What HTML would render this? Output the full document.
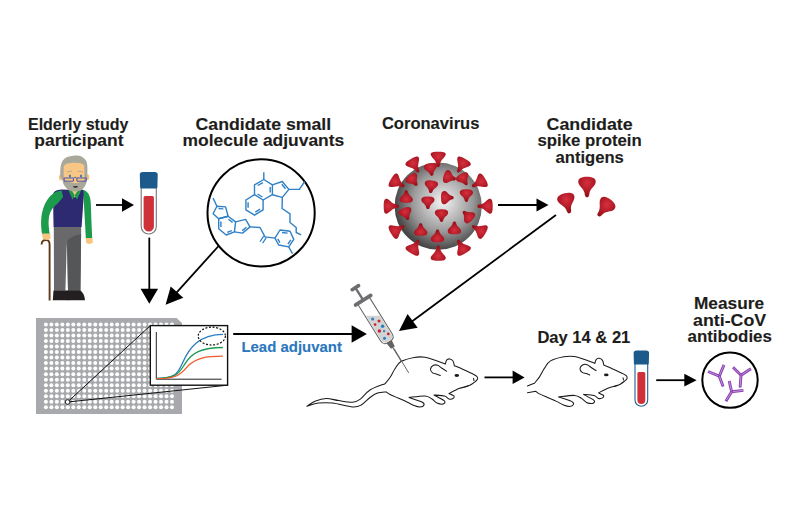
<!DOCTYPE html><html><head><meta charset="utf-8"><style>
html,body{margin:0;padding:0;background:#fff;width:800px;height:530px;overflow:hidden}
svg{display:block;font-family:"Liberation Sans",sans-serif}
</style></head><body>
<svg width="800" height="530" viewBox="0 0 800 530">
<defs>
<radialGradient id="sph" cx="0.55" cy="0.45" r="0.55">
<stop offset="0" stop-color="#f2f2f2"/><stop offset="0.12" stop-color="#e2e2e2"/><stop offset="0.62" stop-color="#9a9a9a"/><stop offset="1" stop-color="#464646"/>
</radialGradient>
<radialGradient id="spk" cx="0.5" cy="0.3" r="0.65">
<stop offset="0" stop-color="#d82f3e"/><stop offset="1" stop-color="#960f18"/>
</radialGradient>
<path id="spike" d="M-7.5,-6.3 C-7.9,-8.9 -4,-9.2 0,-9.2 C4,-9.2 7.9,-8.9 7.5,-6.3 C7,-3.3 2.6,-1.3 1.9,3 C1.6,5.5 1.1,6.2 0,6.2 C-1.1,6.2 -1.6,5.5 -1.9,3 C-2.6,-1.3 -7,-3.3 -7.5,-6.3 Z" fill="url(#spk)"/>
<path id="aspike" d="M-8.6,-5 C-9.6,-9.6 -4.6,-11 0,-11 C4.6,-11 9.6,-9.6 8.6,-5 C7.9,-1.5 3.6,0.5 2.5,5 C2.1,8.5 1.6,9.6 0,9.6 C-1.6,9.6 -2.1,8.5 -2.5,5 C-3.6,0.5 -7.9,-1.5 -8.6,-5 Z" fill="url(#spk)"/>
<path id="ispike" d="M-6.6,-3 C-7.2,-6.3 -3.6,-6.9 0,-6.9 C3.6,-6.9 7.2,-6.3 6.6,-3 C6.1,-0.6 2.7,0.7 1.9,3.6 C1.6,5.2 1,5.8 0,5.8 C-1,5.8 -1.6,5.2 -1.9,3.6 C-2.7,0.7 -6.1,-0.6 -6.6,-3 Z" fill="url(#spk)"/>
</defs>
<rect width="800" height="530" fill="#fff"/>

<text x="28.0" y="129.5" font-size="16" fill="#1d1d1b" font-weight="bold" textLength="100.3" lengthAdjust="spacingAndGlyphs" stroke="#1d1d1b" stroke-width="0.12">Elderly study</text>
<text x="34.3" y="146.3" font-size="16" fill="#1d1d1b" font-weight="bold" textLength="89.2" lengthAdjust="spacingAndGlyphs" stroke="#1d1d1b" stroke-width="0.12">participant</text>
<text x="195.6" y="129.5" font-size="16" fill="#1d1d1b" font-weight="bold" textLength="135.6" lengthAdjust="spacingAndGlyphs" stroke="#1d1d1b" stroke-width="0.12">Candidate small</text>
<text x="182.6" y="146.3" font-size="16" fill="#1d1d1b" font-weight="bold" textLength="161.6" lengthAdjust="spacingAndGlyphs" stroke="#1d1d1b" stroke-width="0.12">molecule adjuvants</text>
<text x="381.9" y="129.3" font-size="16" fill="#1d1d1b" font-weight="bold" textLength="97.5" lengthAdjust="spacingAndGlyphs" stroke="#1d1d1b" stroke-width="0.12">Coronavirus</text>
<text x="546.5" y="129.5" font-size="16" fill="#1d1d1b" font-weight="bold" textLength="86.2" lengthAdjust="spacingAndGlyphs" stroke="#1d1d1b" stroke-width="0.12">Candidate</text>
<text x="537.5" y="146.3" font-size="16" fill="#1d1d1b" font-weight="bold" textLength="104.2" lengthAdjust="spacingAndGlyphs" stroke="#1d1d1b" stroke-width="0.12">spike protein</text>
<text x="555.5" y="163.1" font-size="16" fill="#1d1d1b" font-weight="bold" textLength="68.3" lengthAdjust="spacingAndGlyphs" stroke="#1d1d1b" stroke-width="0.12">antigens</text>
<text x="241.4" y="352.1" font-size="15" fill="#2a77bd" font-weight="bold" textLength="100.6" lengthAdjust="spacingAndGlyphs" stroke="#2a77bd" stroke-width="0.12">Lead adjuvant</text>
<text x="537.4" y="343.0" font-size="16" fill="#1d1d1b" font-weight="bold" textLength="92.9" lengthAdjust="spacingAndGlyphs" stroke="#1d1d1b" stroke-width="0.12">Day 14 &amp; 21</text>
<text x="694.0" y="308.8" font-size="16" fill="#1d1d1b" font-weight="bold" textLength="70.0" lengthAdjust="spacingAndGlyphs" stroke="#1d1d1b" stroke-width="0.12">Measure</text>
<text x="693.1" y="325.6" font-size="16" fill="#1d1d1b" font-weight="bold" textLength="73.1" lengthAdjust="spacingAndGlyphs" stroke="#1d1d1b" stroke-width="0.12">anti-CoV</text>
<text x="687.5" y="342.4" font-size="16" fill="#1d1d1b" font-weight="bold" textLength="84.4" lengthAdjust="spacingAndGlyphs" stroke="#1d1d1b" stroke-width="0.12">antibodies</text>
<g id="person">
<path d="M41.6,244.5 C41.6,241 44,239.8 46.5,240 C48.7,240.3 49.6,242 49.6,244.5 L49.6,300.6" stroke="#5e3a17" stroke-width="1.9" fill="none"/>
<path d="M53.8,226 L81.2,226 L80.4,290.8 L68,290.8 L66.8,242.5 L65.4,290.8 L54,290.8 Z" fill="#69696b"/>
<path d="M67.4,241 C70,237 76,235 81.1,234 L80.4,290.8 L68,290.8 Z" fill="#555658"/>

<path d="M53.5,290.5 L67.2,290.5 L68.3,300.2 L52.8,300.2 Z" fill="#231f20"/>
<path d="M66.6,290.5 L80.5,290.5 C83,292.5 84.6,295.5 85,300.2 L67.4,300.2 Z" fill="#231f20"/>

<path d="M82.5,189.8 C87.5,190.5 90.3,195 90.8,203 C91.2,214 91.6,226 92.2,238.5 L85.8,238.5 C85.4,228 84.6,216 84,205 Z" fill="#1c9b4c"/>
<path d="M53.4,193 C55,190.5 58.5,189.6 62,189.6 L69,189.8 L74.6,197 L80.5,189.6 L83,189.8 C83.5,191 83.8,192.5 83.7,194 C83.2,205 82.4,216 81.6,227 L53.6,227 C53.2,215 53.2,204 53.4,193 Z" fill="#2d2a72"/>
<path d="M61.5,190.4 C57,190.5 51.5,193.5 47.2,200 C43,206.5 41.3,214 41.1,222 C41,227 41.5,231 42.2,234.5 L49.8,234.5 C49,229.5 48.5,225 48.6,221 C48.8,214.5 51,209.5 54.5,206.3 C57.5,203.5 60.5,200.5 63.2,197 Z" fill="#1c9b4c"/>
<path d="M42.2,233.4 L50.2,233.4 L50.6,238.6 C49,240.3 44.5,240.3 42.6,238.6 Z" fill="#f7c57f"/>
<path d="M85.8,238 L92.5,238 L92.8,242.6 C91,244.5 87.2,244.5 86.1,242.6 Z" fill="#f7c57f"/>
<path d="M70.2,188 L79.6,188 L79.4,194 L74.8,197.5 L70.4,194 Z" fill="#f7c57f"/>
<path d="M68.2,189.4 L71.2,189.4 L74.8,195.3 L72.6,199.8 Z" fill="#1c9b4c"/>
<path d="M81.4,189.4 L78.4,189.4 L74.8,195.3 L77,199.8 Z" fill="#1c9b4c"/>
<ellipse cx="60.9" cy="177.5" rx="2" ry="2.9" fill="#f7c57f"/>
<ellipse cx="87.3" cy="177.2" rx="2" ry="2.9" fill="#f7c57f"/>
<path d="M60.3,177 C60,168 60.5,161.5 65,158.2 C68.5,155.8 72.5,156.2 75.5,155.6 C79.5,155 83.5,157 86,160.5 C87.8,163.5 87.6,170 87.3,177 C87,185 83.5,191.4 75.3,191.6 C67,191.4 62.8,185 62.5,180 Z" fill="#aaa79b"/>
<path d="M63.6,166.5 C65,163.6 69,162.8 74.5,162.8 C80,162.8 83,163.6 84.3,165.8 L84.5,178 C84.5,180.5 83.5,181.5 81,182 C79,182.3 77.5,183.2 75,183.2 C72.5,183.2 71,182.3 69,182 C66,181.5 64,180.5 63.8,178 Z" fill="#f8c685"/>
<path d="M67,171.8 L72,171.2 M77.8,171.2 L82.8,171.8" stroke="#b0a994" stroke-width="0.9"/>
<ellipse cx="69.9" cy="176.1" rx="0.95" ry="1.5" fill="#2a72bb"/>
<ellipse cx="81" cy="176.1" rx="0.95" ry="1.5" fill="#2a72bb"/>
<path d="M63.9,178 L73.5,178 L73.3,181.2 L64.4,181.2 Z M76.8,178 L86.4,178 L86,181.2 L77,181.2 Z M73.5,178.6 C74.5,176.8 75.8,176.8 76.8,178.6" fill="none" stroke="#4b56a8" stroke-width="1"/>
<path d="M73.4,186.5 C74.6,187.1 76.4,187.1 77.6,186.5" stroke="#231f20" stroke-width="1.3" fill="none"/>
</g>
<path d="M141.2,187.5 L141.2,226.45 A7.550000000000011,7.550000000000011 0 0 0 156.3,226.45 L156.3,187.5" fill="#fff" stroke="#777" stroke-width="1.1"/>
<path d="M143.6,197.5 Q143.6,196 145.1,196 L152.4,196 Q153.9,196 153.9,197.5 L153.9,226.45 A5.150000000000006,5.150000000000006 0 0 1 143.6,226.45 Z" fill="#cf3139"/>
<path d="M139.79999999999998,174.5 Q139.79999999999998,172 142.79999999999998,172 L154.70000000000002,172 Q157.70000000000002,172 157.70000000000002,174.5 L157.4,187.3 Q157.4,188.5 155.9,188.5 L141.6,188.5 Q140.1,188.5 140.1,187.3 Z" fill="#1b5a8b"/>
<path d="M635,363.6 L635,399.95 A6.350000000000023,6.350000000000023 0 0 0 647.7,399.95 L647.7,363.6" fill="#fff" stroke="#1f5f8f" stroke-width="1.1"/>
<path d="M637.4,373.5 Q637.4,372 638.9,372 L643.8000000000001,372 Q645.3000000000001,372 645.3000000000001,373.5 L645.3000000000001,399.95 A3.9500000000000455,3.9500000000000455 0 0 1 637.4,399.95 Z" fill="#cf3139"/>
<path d="M633.6,353.0 Q633.6,350.5 636.6,350.5 L646.1,350.5 Q649.1,350.5 649.1,353.0 L648.8000000000001,363.40000000000003 Q648.8000000000001,364.6 647.3000000000001,364.6 L635.4,364.6 Q633.9,364.6 633.9,363.40000000000003 Z" fill="#1b5a8b"/>
<line x1="96.0" y1="205.0" x2="123.0" y2="205.0" stroke="#000" stroke-width="1.8"/>
<polygon points="134.0,205.0 122.0,211.8 122.0,198.2" fill="#000"/>
<line x1="149.3" y1="237.6" x2="149.3" y2="289.8" stroke="#000" stroke-width="1.8"/>
<polygon points="149.3,303.8 140.6,288.8 158.1,288.8" fill="#000"/>
<line x1="218.6" y1="246.0" x2="176.3" y2="292.8" stroke="#000" stroke-width="1.8"/>
<polygon points="165.6,304.7 170.7,286.4 183.3,297.8" fill="#000"/>
<line x1="498.0" y1="205.0" x2="537.5" y2="205.0" stroke="#000" stroke-width="1.8"/>
<polygon points="548.5,205.0 536.5,211.5 536.5,198.5" fill="#000"/>
<line x1="556.0" y1="215.0" x2="411.9" y2="321.5" stroke="#000" stroke-width="1.8"/>
<polygon points="399.0,331.0 407.6,314.1 417.7,327.7" fill="#000"/>
<line x1="233.2" y1="334.0" x2="352.6" y2="334.0" stroke="#000" stroke-width="1.8"/>
<polygon points="366.9,334.0 351.6,342.8 351.6,325.2" fill="#000"/>
<line x1="484.5" y1="377.4" x2="513.6" y2="377.4" stroke="#000" stroke-width="1.8"/>
<polygon points="524.6,377.4 512.6,384.1 512.6,370.6" fill="#000"/>
<line x1="656.2" y1="380.2" x2="685.3" y2="380.2" stroke="#000" stroke-width="1.8"/>
<polygon points="696.6,380.2 684.3,386.6 684.3,373.8" fill="#000"/>
<circle cx="261.1" cy="212.9" r="53.6" fill="#fff" stroke="#000" stroke-width="2"/>
<path d="M263.8,172.3 L263.8,179.5" fill="none" stroke="#2f80c6" stroke-width="1.4" stroke-linejoin="round"/>
<path d="M263.8,179.5 L272.4,184.8 L272.4,194.7 L263.1,200.0 L254.5,194.7 L254.5,184.8 Z" fill="none" stroke="#2f80c6" stroke-width="1.4" stroke-linejoin="round"/>
<path d="M263.1,200.0 L263.1,209.9 L254.5,215.2 L245.9,209.9 L245.9,200.0 L254.5,194.7" fill="none" stroke="#2f80c6" stroke-width="1.4" stroke-linejoin="round"/>
<path d="M272.4,184.8 L282.3,181.5 L288.9,189.4 L282.3,197.4 L272.4,194.7" fill="none" stroke="#2f80c6" stroke-width="1.4" stroke-linejoin="round"/>
<path d="M288.9,189.4 L299.4,189.4 L304.7,181.5" fill="none" stroke="#2f80c6" stroke-width="1.4" stroke-linejoin="round"/>
<path d="M282.3,197.4 L282.1,208.5 L290.0,213.8 L290.0,222.5 L296.2,227.5 L296.2,232.5 L301.2,234.8" fill="none" stroke="#2f80c6" stroke-width="1.4" stroke-linejoin="round"/>
<path d="M262.9,182.6 L257.6,185.5" fill="none" stroke="#2f80c6" stroke-width="1.4" stroke-linejoin="round"/>
<path d="M270.2,187.0 L270.2,192.5" fill="none" stroke="#2f80c6" stroke-width="1.4" stroke-linejoin="round"/>
<path d="M262.4,197.0 L257.5,194.0" fill="none" stroke="#2f80c6" stroke-width="1.4" stroke-linejoin="round"/>
<path d="M260.1,209.2 L255.3,212.1" fill="none" stroke="#2f80c6" stroke-width="1.4" stroke-linejoin="round"/>
<path d="M248.1,207.7 L248.1,202.2" fill="none" stroke="#2f80c6" stroke-width="1.4" stroke-linejoin="round"/>
<path d="M281.8,184.3 L285.5,188.7" fill="none" stroke="#2f80c6" stroke-width="1.4" stroke-linejoin="round"/>
<path d="M213.1,198.1 L216.9,206.3" fill="none" stroke="#2f80c6" stroke-width="1.4" stroke-linejoin="round"/>
<path d="M216.9,206.3 L225.6,206.9 L228.1,216.2 L218.7,218.7 L213.1,213.8 Z" fill="none" stroke="#2f80c6" stroke-width="1.4" stroke-linejoin="round"/>
<path d="M218.7,218.7 L228.1,216.2 L235.6,221.9 L234.4,231.9 L226.2,235.0 L218.7,228.7 Z" fill="none" stroke="#2f80c6" stroke-width="1.4" stroke-linejoin="round"/>
<path d="M235.6,221.9 L245.6,219.4 L250.0,226.9 L242.5,233.1 L234.4,231.9" fill="none" stroke="#2f80c6" stroke-width="1.4" stroke-linejoin="round"/>
<path d="M218.5,208.6 L223.4,208.9" fill="none" stroke="#2f80c6" stroke-width="1.4" stroke-linejoin="round"/>
<path d="M220.9,221.4 L220.9,227.0" fill="none" stroke="#2f80c6" stroke-width="1.4" stroke-linejoin="round"/>
<path d="M232.6,222.4 L228.4,219.2" fill="none" stroke="#2f80c6" stroke-width="1.4" stroke-linejoin="round"/>
<path d="M231.8,230.6 L227.2,232.3" fill="none" stroke="#2f80c6" stroke-width="1.4" stroke-linejoin="round"/>
<path d="M246.4,227.2 L242.2,230.6" fill="none" stroke="#2f80c6" stroke-width="1.4" stroke-linejoin="round"/>
<path d="M250.0,226.9 L260.0,227.5 L265.0,236.9 L275.0,238.1" fill="none" stroke="#2f80c6" stroke-width="1.4" stroke-linejoin="round"/>
<path d="M263.7,236.1 L260,241.6 M266.3,237.7 L262.6,243.2" stroke="#2f80c6" stroke-width="1.2" fill="none"/>
<path d="M275.0,238.1 L280.0,230.0 L290.0,231.2 L293.8,239.4 L288.7,246.9 L278.7,245.0 Z" fill="none" stroke="#2f80c6" stroke-width="1.4" stroke-linejoin="round"/>
<path d="M282.0,232.5 L287.6,233.1" fill="none" stroke="#2f80c6" stroke-width="1.4" stroke-linejoin="round"/>
<path d="M290.9,239.8 L288.0,244.0" fill="none" stroke="#2f80c6" stroke-width="1.4" stroke-linejoin="round"/>
<path d="M279.9,242.6 L277.8,238.8" fill="none" stroke="#2f80c6" stroke-width="1.4" stroke-linejoin="round"/>
<path d="M288.7,246.9 L292.5,253.7" fill="none" stroke="#2f80c6" stroke-width="1.4" stroke-linejoin="round"/>
<circle cx="438.2" cy="206.2" r="43.6" fill="url(#sph)"/>
<use href="#spike" transform="translate(438.2,160.9) rotate(0)"/>
<use href="#spike" transform="translate(460.8,167.0) rotate(30)"/>
<use href="#spike" transform="translate(477.4,183.5) rotate(60)"/>
<use href="#spike" transform="translate(483.5,206.2) rotate(90)"/>
<use href="#spike" transform="translate(477.4,228.8) rotate(120)"/>
<use href="#spike" transform="translate(460.8,245.4) rotate(150)"/>
<use href="#spike" transform="translate(438.2,251.5) rotate(180)"/>
<use href="#spike" transform="translate(415.6,245.4) rotate(210)"/>
<use href="#spike" transform="translate(399.0,228.8) rotate(240)"/>
<use href="#spike" transform="translate(392.9,206.2) rotate(270)"/>
<use href="#spike" transform="translate(399.0,183.5) rotate(300)"/>
<use href="#spike" transform="translate(415.5,167.0) rotate(330)"/>
<use href="#ispike" transform="translate(431,170) rotate(-10)"/>
<use href="#ispike" transform="translate(450.3,177.6) rotate(-73)"/>
<use href="#ispike" transform="translate(464,180) rotate(-30)"/>
<use href="#ispike" transform="translate(413.5,180.9) rotate(-37)"/>
<use href="#ispike" transform="translate(431.1,187.3) rotate(5)"/>
<use href="#ispike" transform="translate(406.2,196.1) rotate(180)"/>
<use href="#ispike" transform="translate(447.9,197.7) rotate(-90)"/>
<use href="#ispike" transform="translate(466.4,196.1) rotate(0)"/>
<use href="#ispike" transform="translate(427.9,203.3) rotate(0)"/>
<use href="#ispike" transform="translate(406.2,214.5) rotate(-20)"/>
<use href="#ispike" transform="translate(441.5,216.2) rotate(0)"/>
<use href="#ispike" transform="translate(467.2,215.3) rotate(135)"/>
<use href="#ispike" transform="translate(420.7,229) rotate(180)"/>
<use href="#ispike" transform="translate(454.4,227.4) rotate(180)"/>
<use href="#ispike" transform="translate(437.5,235.4) rotate(180)"/>
<use href="#aspike" transform="translate(567.3,204) rotate(-14)"/>
<use href="#aspike" transform="translate(587,187.8)"/>
<use href="#aspike" transform="translate(604,208.5) rotate(38)"/>
<path d="M36,318 L176.6,318 L182,323 L182,414 L36,414 Z" fill="#a7a9ac"/>
<g fill="#fff"><circle cx="45.90" cy="324.40" r="2"/><circle cx="51.38" cy="324.40" r="2"/><circle cx="56.86" cy="324.40" r="2"/><circle cx="62.35" cy="324.40" r="2"/><circle cx="67.83" cy="324.40" r="2"/><circle cx="73.31" cy="324.40" r="2"/><circle cx="78.79" cy="324.40" r="2"/><circle cx="84.27" cy="324.40" r="2"/><circle cx="89.76" cy="324.40" r="2"/><circle cx="95.24" cy="324.40" r="2"/><circle cx="100.72" cy="324.40" r="2"/><circle cx="106.20" cy="324.40" r="2"/><circle cx="111.68" cy="324.40" r="2"/><circle cx="117.17" cy="324.40" r="2"/><circle cx="122.65" cy="324.40" r="2"/><circle cx="128.13" cy="324.40" r="2"/><circle cx="133.61" cy="324.40" r="2"/><circle cx="139.09" cy="324.40" r="2"/><circle cx="144.58" cy="324.40" r="2"/><circle cx="150.06" cy="324.40" r="2"/><circle cx="155.54" cy="324.40" r="2"/><circle cx="161.02" cy="324.40" r="2"/><circle cx="166.50" cy="324.40" r="2"/><circle cx="171.99" cy="324.40" r="2"/><circle cx="45.90" cy="329.93" r="2"/><circle cx="51.38" cy="329.93" r="2"/><circle cx="56.86" cy="329.93" r="2"/><circle cx="62.35" cy="329.93" r="2"/><circle cx="67.83" cy="329.93" r="2"/><circle cx="73.31" cy="329.93" r="2"/><circle cx="78.79" cy="329.93" r="2"/><circle cx="84.27" cy="329.93" r="2"/><circle cx="89.76" cy="329.93" r="2"/><circle cx="95.24" cy="329.93" r="2"/><circle cx="100.72" cy="329.93" r="2"/><circle cx="106.20" cy="329.93" r="2"/><circle cx="111.68" cy="329.93" r="2"/><circle cx="117.17" cy="329.93" r="2"/><circle cx="122.65" cy="329.93" r="2"/><circle cx="128.13" cy="329.93" r="2"/><circle cx="133.61" cy="329.93" r="2"/><circle cx="139.09" cy="329.93" r="2"/><circle cx="144.58" cy="329.93" r="2"/><circle cx="150.06" cy="329.93" r="2"/><circle cx="155.54" cy="329.93" r="2"/><circle cx="161.02" cy="329.93" r="2"/><circle cx="166.50" cy="329.93" r="2"/><circle cx="171.99" cy="329.93" r="2"/><circle cx="45.90" cy="335.45" r="2"/><circle cx="51.38" cy="335.45" r="2"/><circle cx="56.86" cy="335.45" r="2"/><circle cx="62.35" cy="335.45" r="2"/><circle cx="67.83" cy="335.45" r="2"/><circle cx="73.31" cy="335.45" r="2"/><circle cx="78.79" cy="335.45" r="2"/><circle cx="84.27" cy="335.45" r="2"/><circle cx="89.76" cy="335.45" r="2"/><circle cx="95.24" cy="335.45" r="2"/><circle cx="100.72" cy="335.45" r="2"/><circle cx="106.20" cy="335.45" r="2"/><circle cx="111.68" cy="335.45" r="2"/><circle cx="117.17" cy="335.45" r="2"/><circle cx="122.65" cy="335.45" r="2"/><circle cx="128.13" cy="335.45" r="2"/><circle cx="133.61" cy="335.45" r="2"/><circle cx="139.09" cy="335.45" r="2"/><circle cx="144.58" cy="335.45" r="2"/><circle cx="150.06" cy="335.45" r="2"/><circle cx="155.54" cy="335.45" r="2"/><circle cx="161.02" cy="335.45" r="2"/><circle cx="166.50" cy="335.45" r="2"/><circle cx="171.99" cy="335.45" r="2"/><circle cx="45.90" cy="340.98" r="2"/><circle cx="51.38" cy="340.98" r="2"/><circle cx="56.86" cy="340.98" r="2"/><circle cx="62.35" cy="340.98" r="2"/><circle cx="67.83" cy="340.98" r="2"/><circle cx="73.31" cy="340.98" r="2"/><circle cx="78.79" cy="340.98" r="2"/><circle cx="84.27" cy="340.98" r="2"/><circle cx="89.76" cy="340.98" r="2"/><circle cx="95.24" cy="340.98" r="2"/><circle cx="100.72" cy="340.98" r="2"/><circle cx="106.20" cy="340.98" r="2"/><circle cx="111.68" cy="340.98" r="2"/><circle cx="117.17" cy="340.98" r="2"/><circle cx="122.65" cy="340.98" r="2"/><circle cx="128.13" cy="340.98" r="2"/><circle cx="133.61" cy="340.98" r="2"/><circle cx="139.09" cy="340.98" r="2"/><circle cx="144.58" cy="340.98" r="2"/><circle cx="150.06" cy="340.98" r="2"/><circle cx="155.54" cy="340.98" r="2"/><circle cx="161.02" cy="340.98" r="2"/><circle cx="166.50" cy="340.98" r="2"/><circle cx="171.99" cy="340.98" r="2"/><circle cx="45.90" cy="346.51" r="2"/><circle cx="51.38" cy="346.51" r="2"/><circle cx="56.86" cy="346.51" r="2"/><circle cx="62.35" cy="346.51" r="2"/><circle cx="67.83" cy="346.51" r="2"/><circle cx="73.31" cy="346.51" r="2"/><circle cx="78.79" cy="346.51" r="2"/><circle cx="84.27" cy="346.51" r="2"/><circle cx="89.76" cy="346.51" r="2"/><circle cx="95.24" cy="346.51" r="2"/><circle cx="100.72" cy="346.51" r="2"/><circle cx="106.20" cy="346.51" r="2"/><circle cx="111.68" cy="346.51" r="2"/><circle cx="117.17" cy="346.51" r="2"/><circle cx="122.65" cy="346.51" r="2"/><circle cx="128.13" cy="346.51" r="2"/><circle cx="133.61" cy="346.51" r="2"/><circle cx="139.09" cy="346.51" r="2"/><circle cx="144.58" cy="346.51" r="2"/><circle cx="150.06" cy="346.51" r="2"/><circle cx="155.54" cy="346.51" r="2"/><circle cx="161.02" cy="346.51" r="2"/><circle cx="166.50" cy="346.51" r="2"/><circle cx="171.99" cy="346.51" r="2"/><circle cx="45.90" cy="352.03" r="2"/><circle cx="51.38" cy="352.03" r="2"/><circle cx="56.86" cy="352.03" r="2"/><circle cx="62.35" cy="352.03" r="2"/><circle cx="67.83" cy="352.03" r="2"/><circle cx="73.31" cy="352.03" r="2"/><circle cx="78.79" cy="352.03" r="2"/><circle cx="84.27" cy="352.03" r="2"/><circle cx="89.76" cy="352.03" r="2"/><circle cx="95.24" cy="352.03" r="2"/><circle cx="100.72" cy="352.03" r="2"/><circle cx="106.20" cy="352.03" r="2"/><circle cx="111.68" cy="352.03" r="2"/><circle cx="117.17" cy="352.03" r="2"/><circle cx="122.65" cy="352.03" r="2"/><circle cx="128.13" cy="352.03" r="2"/><circle cx="133.61" cy="352.03" r="2"/><circle cx="139.09" cy="352.03" r="2"/><circle cx="144.58" cy="352.03" r="2"/><circle cx="150.06" cy="352.03" r="2"/><circle cx="155.54" cy="352.03" r="2"/><circle cx="161.02" cy="352.03" r="2"/><circle cx="166.50" cy="352.03" r="2"/><circle cx="171.99" cy="352.03" r="2"/><circle cx="45.90" cy="357.56" r="2"/><circle cx="51.38" cy="357.56" r="2"/><circle cx="56.86" cy="357.56" r="2"/><circle cx="62.35" cy="357.56" r="2"/><circle cx="67.83" cy="357.56" r="2"/><circle cx="73.31" cy="357.56" r="2"/><circle cx="78.79" cy="357.56" r="2"/><circle cx="84.27" cy="357.56" r="2"/><circle cx="89.76" cy="357.56" r="2"/><circle cx="95.24" cy="357.56" r="2"/><circle cx="100.72" cy="357.56" r="2"/><circle cx="106.20" cy="357.56" r="2"/><circle cx="111.68" cy="357.56" r="2"/><circle cx="117.17" cy="357.56" r="2"/><circle cx="122.65" cy="357.56" r="2"/><circle cx="128.13" cy="357.56" r="2"/><circle cx="133.61" cy="357.56" r="2"/><circle cx="139.09" cy="357.56" r="2"/><circle cx="144.58" cy="357.56" r="2"/><circle cx="150.06" cy="357.56" r="2"/><circle cx="155.54" cy="357.56" r="2"/><circle cx="161.02" cy="357.56" r="2"/><circle cx="166.50" cy="357.56" r="2"/><circle cx="171.99" cy="357.56" r="2"/><circle cx="45.90" cy="363.09" r="2"/><circle cx="51.38" cy="363.09" r="2"/><circle cx="56.86" cy="363.09" r="2"/><circle cx="62.35" cy="363.09" r="2"/><circle cx="67.83" cy="363.09" r="2"/><circle cx="73.31" cy="363.09" r="2"/><circle cx="78.79" cy="363.09" r="2"/><circle cx="84.27" cy="363.09" r="2"/><circle cx="89.76" cy="363.09" r="2"/><circle cx="95.24" cy="363.09" r="2"/><circle cx="100.72" cy="363.09" r="2"/><circle cx="106.20" cy="363.09" r="2"/><circle cx="111.68" cy="363.09" r="2"/><circle cx="117.17" cy="363.09" r="2"/><circle cx="122.65" cy="363.09" r="2"/><circle cx="128.13" cy="363.09" r="2"/><circle cx="133.61" cy="363.09" r="2"/><circle cx="139.09" cy="363.09" r="2"/><circle cx="144.58" cy="363.09" r="2"/><circle cx="150.06" cy="363.09" r="2"/><circle cx="155.54" cy="363.09" r="2"/><circle cx="161.02" cy="363.09" r="2"/><circle cx="166.50" cy="363.09" r="2"/><circle cx="171.99" cy="363.09" r="2"/><circle cx="45.90" cy="368.62" r="2"/><circle cx="51.38" cy="368.62" r="2"/><circle cx="56.86" cy="368.62" r="2"/><circle cx="62.35" cy="368.62" r="2"/><circle cx="67.83" cy="368.62" r="2"/><circle cx="73.31" cy="368.62" r="2"/><circle cx="78.79" cy="368.62" r="2"/><circle cx="84.27" cy="368.62" r="2"/><circle cx="89.76" cy="368.62" r="2"/><circle cx="95.24" cy="368.62" r="2"/><circle cx="100.72" cy="368.62" r="2"/><circle cx="106.20" cy="368.62" r="2"/><circle cx="111.68" cy="368.62" r="2"/><circle cx="117.17" cy="368.62" r="2"/><circle cx="122.65" cy="368.62" r="2"/><circle cx="128.13" cy="368.62" r="2"/><circle cx="133.61" cy="368.62" r="2"/><circle cx="139.09" cy="368.62" r="2"/><circle cx="144.58" cy="368.62" r="2"/><circle cx="150.06" cy="368.62" r="2"/><circle cx="155.54" cy="368.62" r="2"/><circle cx="161.02" cy="368.62" r="2"/><circle cx="166.50" cy="368.62" r="2"/><circle cx="171.99" cy="368.62" r="2"/><circle cx="45.90" cy="374.14" r="2"/><circle cx="51.38" cy="374.14" r="2"/><circle cx="56.86" cy="374.14" r="2"/><circle cx="62.35" cy="374.14" r="2"/><circle cx="67.83" cy="374.14" r="2"/><circle cx="73.31" cy="374.14" r="2"/><circle cx="78.79" cy="374.14" r="2"/><circle cx="84.27" cy="374.14" r="2"/><circle cx="89.76" cy="374.14" r="2"/><circle cx="95.24" cy="374.14" r="2"/><circle cx="100.72" cy="374.14" r="2"/><circle cx="106.20" cy="374.14" r="2"/><circle cx="111.68" cy="374.14" r="2"/><circle cx="117.17" cy="374.14" r="2"/><circle cx="122.65" cy="374.14" r="2"/><circle cx="128.13" cy="374.14" r="2"/><circle cx="133.61" cy="374.14" r="2"/><circle cx="139.09" cy="374.14" r="2"/><circle cx="144.58" cy="374.14" r="2"/><circle cx="150.06" cy="374.14" r="2"/><circle cx="155.54" cy="374.14" r="2"/><circle cx="161.02" cy="374.14" r="2"/><circle cx="166.50" cy="374.14" r="2"/><circle cx="171.99" cy="374.14" r="2"/><circle cx="45.90" cy="379.67" r="2"/><circle cx="51.38" cy="379.67" r="2"/><circle cx="56.86" cy="379.67" r="2"/><circle cx="62.35" cy="379.67" r="2"/><circle cx="67.83" cy="379.67" r="2"/><circle cx="73.31" cy="379.67" r="2"/><circle cx="78.79" cy="379.67" r="2"/><circle cx="84.27" cy="379.67" r="2"/><circle cx="89.76" cy="379.67" r="2"/><circle cx="95.24" cy="379.67" r="2"/><circle cx="100.72" cy="379.67" r="2"/><circle cx="106.20" cy="379.67" r="2"/><circle cx="111.68" cy="379.67" r="2"/><circle cx="117.17" cy="379.67" r="2"/><circle cx="122.65" cy="379.67" r="2"/><circle cx="128.13" cy="379.67" r="2"/><circle cx="133.61" cy="379.67" r="2"/><circle cx="139.09" cy="379.67" r="2"/><circle cx="144.58" cy="379.67" r="2"/><circle cx="150.06" cy="379.67" r="2"/><circle cx="155.54" cy="379.67" r="2"/><circle cx="161.02" cy="379.67" r="2"/><circle cx="166.50" cy="379.67" r="2"/><circle cx="171.99" cy="379.67" r="2"/><circle cx="45.90" cy="385.20" r="2"/><circle cx="51.38" cy="385.20" r="2"/><circle cx="56.86" cy="385.20" r="2"/><circle cx="62.35" cy="385.20" r="2"/><circle cx="67.83" cy="385.20" r="2"/><circle cx="73.31" cy="385.20" r="2"/><circle cx="78.79" cy="385.20" r="2"/><circle cx="84.27" cy="385.20" r="2"/><circle cx="89.76" cy="385.20" r="2"/><circle cx="95.24" cy="385.20" r="2"/><circle cx="100.72" cy="385.20" r="2"/><circle cx="106.20" cy="385.20" r="2"/><circle cx="111.68" cy="385.20" r="2"/><circle cx="117.17" cy="385.20" r="2"/><circle cx="122.65" cy="385.20" r="2"/><circle cx="128.13" cy="385.20" r="2"/><circle cx="133.61" cy="385.20" r="2"/><circle cx="139.09" cy="385.20" r="2"/><circle cx="144.58" cy="385.20" r="2"/><circle cx="150.06" cy="385.20" r="2"/><circle cx="155.54" cy="385.20" r="2"/><circle cx="161.02" cy="385.20" r="2"/><circle cx="166.50" cy="385.20" r="2"/><circle cx="171.99" cy="385.20" r="2"/><circle cx="45.90" cy="390.72" r="2"/><circle cx="51.38" cy="390.72" r="2"/><circle cx="56.86" cy="390.72" r="2"/><circle cx="62.35" cy="390.72" r="2"/><circle cx="67.83" cy="390.72" r="2"/><circle cx="73.31" cy="390.72" r="2"/><circle cx="78.79" cy="390.72" r="2"/><circle cx="84.27" cy="390.72" r="2"/><circle cx="89.76" cy="390.72" r="2"/><circle cx="95.24" cy="390.72" r="2"/><circle cx="100.72" cy="390.72" r="2"/><circle cx="106.20" cy="390.72" r="2"/><circle cx="111.68" cy="390.72" r="2"/><circle cx="117.17" cy="390.72" r="2"/><circle cx="122.65" cy="390.72" r="2"/><circle cx="128.13" cy="390.72" r="2"/><circle cx="133.61" cy="390.72" r="2"/><circle cx="139.09" cy="390.72" r="2"/><circle cx="144.58" cy="390.72" r="2"/><circle cx="150.06" cy="390.72" r="2"/><circle cx="155.54" cy="390.72" r="2"/><circle cx="161.02" cy="390.72" r="2"/><circle cx="166.50" cy="390.72" r="2"/><circle cx="171.99" cy="390.72" r="2"/><circle cx="45.90" cy="396.25" r="2"/><circle cx="51.38" cy="396.25" r="2"/><circle cx="56.86" cy="396.25" r="2"/><circle cx="62.35" cy="396.25" r="2"/><circle cx="67.83" cy="396.25" r="2"/><circle cx="73.31" cy="396.25" r="2"/><circle cx="78.79" cy="396.25" r="2"/><circle cx="84.27" cy="396.25" r="2"/><circle cx="89.76" cy="396.25" r="2"/><circle cx="95.24" cy="396.25" r="2"/><circle cx="100.72" cy="396.25" r="2"/><circle cx="106.20" cy="396.25" r="2"/><circle cx="111.68" cy="396.25" r="2"/><circle cx="117.17" cy="396.25" r="2"/><circle cx="122.65" cy="396.25" r="2"/><circle cx="128.13" cy="396.25" r="2"/><circle cx="133.61" cy="396.25" r="2"/><circle cx="139.09" cy="396.25" r="2"/><circle cx="144.58" cy="396.25" r="2"/><circle cx="150.06" cy="396.25" r="2"/><circle cx="155.54" cy="396.25" r="2"/><circle cx="161.02" cy="396.25" r="2"/><circle cx="166.50" cy="396.25" r="2"/><circle cx="171.99" cy="396.25" r="2"/><circle cx="45.90" cy="401.78" r="2"/><circle cx="51.38" cy="401.78" r="2"/><circle cx="56.86" cy="401.78" r="2"/><circle cx="62.35" cy="401.78" r="2"/><circle cx="67.83" cy="401.78" r="2"/><circle cx="73.31" cy="401.78" r="2"/><circle cx="78.79" cy="401.78" r="2"/><circle cx="84.27" cy="401.78" r="2"/><circle cx="89.76" cy="401.78" r="2"/><circle cx="95.24" cy="401.78" r="2"/><circle cx="100.72" cy="401.78" r="2"/><circle cx="106.20" cy="401.78" r="2"/><circle cx="111.68" cy="401.78" r="2"/><circle cx="117.17" cy="401.78" r="2"/><circle cx="122.65" cy="401.78" r="2"/><circle cx="128.13" cy="401.78" r="2"/><circle cx="133.61" cy="401.78" r="2"/><circle cx="139.09" cy="401.78" r="2"/><circle cx="144.58" cy="401.78" r="2"/><circle cx="150.06" cy="401.78" r="2"/><circle cx="155.54" cy="401.78" r="2"/><circle cx="161.02" cy="401.78" r="2"/><circle cx="166.50" cy="401.78" r="2"/><circle cx="171.99" cy="401.78" r="2"/><circle cx="45.90" cy="407.30" r="2"/><circle cx="51.38" cy="407.30" r="2"/><circle cx="56.86" cy="407.30" r="2"/><circle cx="62.35" cy="407.30" r="2"/><circle cx="67.83" cy="407.30" r="2"/><circle cx="73.31" cy="407.30" r="2"/><circle cx="78.79" cy="407.30" r="2"/><circle cx="84.27" cy="407.30" r="2"/><circle cx="89.76" cy="407.30" r="2"/><circle cx="95.24" cy="407.30" r="2"/><circle cx="100.72" cy="407.30" r="2"/><circle cx="106.20" cy="407.30" r="2"/><circle cx="111.68" cy="407.30" r="2"/><circle cx="117.17" cy="407.30" r="2"/><circle cx="122.65" cy="407.30" r="2"/><circle cx="128.13" cy="407.30" r="2"/><circle cx="133.61" cy="407.30" r="2"/><circle cx="139.09" cy="407.30" r="2"/><circle cx="144.58" cy="407.30" r="2"/><circle cx="150.06" cy="407.30" r="2"/><circle cx="155.54" cy="407.30" r="2"/><circle cx="161.02" cy="407.30" r="2"/><circle cx="166.50" cy="407.30" r="2"/><circle cx="171.99" cy="407.30" r="2"/></g>
<path d="M67.6,402 L150.3,325.6 M67.6,402 L227.6,385.2" stroke="#111" stroke-width="1"/>
<circle cx="67.6" cy="402" r="2.3" fill="#fff" stroke="#111" stroke-width="0.9"/>
<rect x="150.3" y="325.6" width="77.3" height="59.6" fill="#fff" stroke="#111" stroke-width="1.4"/>
<path d="M156.3,332 L156.3,379.2 L221.6,379.2" fill="none" stroke="#222" stroke-width="1"/>
<path d="M156.6,378.4 C176.3,377.7 177.8,373.9 183.1,361.8 C189.1,348.2 198.9,334.3 223.1,334.3" fill="none" stroke="#2b7bc4" stroke-width="1.3"/>
<path d="M156.6,378.6 C177.8,378.1 179.3,372.4 185.3,363.3 C192.1,352.8 201.9,347.5 222.8,347.5" fill="none" stroke="#1b9a52" stroke-width="1.3"/>
<path d="M156.6,378.7 C179.3,378.4 180.8,373.9 188.3,365.6 C196.6,358.1 205.0,356.1 222.8,356.1" fill="none" stroke="#f15a2a" stroke-width="1.3"/>
<ellipse cx="211.8" cy="336.1" rx="13.6" ry="8.9" fill="none" stroke="#111" stroke-width="1.2" stroke-dasharray="2,1.6"/>
<g transform="translate(363.2,300.2) rotate(-32)">
<line x1="0" y1="54" x2="0" y2="86" stroke="#636363" stroke-width="1.1"/>
<path d="M-3.2,48.5 L3.2,48.5 L2.2,56 L-2.2,56 Z" fill="#636363"/>
<rect x="-1.2" y="-14" width="2.4" height="14" fill="#6d6e71"/>
<rect x="-5.6" y="-16.6" width="11.2" height="3.6" rx="1.8" fill="#6d6e71"/>
<path d="M-6.8,1.5 L-6.8,43.5 Q-6.8,49 -1.8,49 L1.8,49 Q6.8,49 6.8,43.5 L6.8,1.5" fill="#fff" stroke="#636363" stroke-width="1"/>
<path d="M-6,14.5 L6,22 L6,43.3 Q6,48.1 1.8,48.1 L-1.8,48.1 Q-6,48.1 -6,43.3 Z" fill="#d3d3d3"/>
<rect x="-10.8" y="-1.9" width="21.6" height="3.8" rx="1.9" fill="#6d6e71"/>
</g>
<circle cx="372.6" cy="318.9" r="1.5" fill="#2b7fc4"/>
<circle cx="379" cy="321.1" r="1.5" fill="#c8232c"/>
<circle cx="375.1" cy="324.6" r="1.3" fill="#c8232c"/>
<circle cx="382.6" cy="326.2" r="1.7" fill="#2b7fc4"/>
<circle cx="379.4" cy="331" r="1.7" fill="#c8232c"/>
<circle cx="384.1" cy="331.1" r="1.2" fill="#2b7fc4"/>
<circle cx="388.3" cy="333.9" r="1.4" fill="#c8232c"/>
<circle cx="384.5" cy="338.2" r="1.5" fill="#2b7fc4"/>
<path d="M306.90,406.25 C308.25,405.42 311.77,402.54 315.00,401.25 C318.23,399.96 322.29,398.61 326.25,398.50 C330.21,398.39 334.38,399.98 338.75,400.60 C343.12,401.23 348.96,402.45 352.50,402.25 C356.04,402.05 357.08,401.44 360.00,399.40 C362.92,397.36 365.83,392.61 370.00,390.00 C374.17,387.39 382.50,384.79 385.00,383.75 C385.83,382.71 388.33,380.00 390.00,377.50 C391.67,375.00 393.17,371.42 395.00,368.75 C396.83,366.08 397.77,363.39 401.00,361.50 C404.23,359.61 410.40,358.12 414.40,357.40 C418.40,356.68 421.53,356.73 425.00,357.20 C428.47,357.67 431.80,359.07 435.20,360.20 C438.60,361.33 443.70,363.37 445.40,364.00 C445.60,363.37 445.90,361.05 446.60,360.20 C447.30,359.35 448.53,358.77 449.60,358.90 C450.67,359.03 452.22,359.87 453.00,361.00 C453.78,362.13 454.08,364.92 454.30,365.70 C455.78,366.33 460.17,368.15 463.20,369.50 C466.23,370.85 470.23,372.67 472.50,373.80 C474.77,374.93 475.95,375.45 476.80,376.30 C477.65,377.15 477.73,378.12 477.60,378.90 C477.47,379.68 476.27,380.65 476.00,381.00 C475.13,381.63 472.37,383.88 470.80,384.80 C469.23,385.72 468.57,385.87 466.60,386.50 C464.63,387.13 461.93,387.43 459.00,388.60 C456.07,389.77 450.67,392.68 449.00,393.50 C449.83,393.92 453.33,395.17 454.00,396.00 C454.67,396.83 453.83,398.00 453.00,398.50 C452.17,399.00 450.42,399.42 449.00,399.00 C447.58,398.58 447.00,396.67 444.50,396.00 C442.00,395.33 435.75,395.17 434.00,395.00 C435.75,396.00 443.00,399.50 444.50,401.00 C446.00,402.50 444.25,403.67 443.00,404.00 C441.75,404.33 438.83,403.83 437.00,403.00 C435.17,402.17 434.00,400.17 432.00,399.00 C430.00,397.83 428.83,396.25 425.00,396.00 C421.17,395.75 411.67,397.25 409.00,397.50 C411.17,398.25 419.50,400.75 422.00,402.00 C424.50,403.25 424.33,404.17 424.00,405.00 C423.67,405.83 421.67,406.92 420.00,407.00 C418.33,407.08 416.00,406.25 414.00,405.50 C412.00,404.75 409.67,403.33 408.00,402.50 C406.33,401.67 405.67,401.25 404.00,400.50 C402.33,399.75 400.33,399.00 398.00,398.00 C395.67,397.00 391.96,395.52 390.00,394.50 C388.04,393.48 386.88,392.33 386.25,391.90 C384.79,392.10 380.21,392.17 377.50,393.10 C374.79,394.03 372.71,395.52 370.00,397.50 C367.29,399.48 364.17,403.43 361.25,405.00 C358.33,406.57 357.29,407.22 352.50,406.90 C347.71,406.58 338.12,403.73 332.50,403.10 C326.88,402.47 323.02,402.58 318.75,403.10 C314.48,403.62 308.88,405.73 306.90,406.25 Z" fill="#fff" stroke="#1a1a1a" stroke-width="1.05" stroke-linejoin="round" stroke-linecap="round"/>
<path d="M446.60,371.20 C445.83,370.72 443.48,369.28 442.00,368.30 C440.52,367.32 439.12,365.80 437.70,365.30 C436.28,364.80 434.70,364.67 433.50,365.30 C432.30,365.93 430.65,367.83 430.50,369.10 C430.35,370.37 431.53,372.05 432.60,372.90 C433.67,373.75 435.62,373.77 436.90,374.20 C438.18,374.63 439.73,375.28 440.30,375.50" fill="none" stroke="#1a1a1a" stroke-width="1.05" stroke-linejoin="round" stroke-linecap="round"/>
<ellipse cx="456.8" cy="375.5" rx="2.3" ry="1.4" fill="#1a1a1a"/>
<path d="M473.6,378.3 L473.9,380.6 M464.8,386.9 L468,385.8" fill="none" stroke="#1a1a1a" stroke-width="1.05" stroke-linejoin="round" stroke-linecap="round" stroke-width="0.8"/>
<line x1="394" y1="348.4" x2="408.7" y2="372.9" stroke="#666" stroke-width="1"/>
<g transform="translate(149.5,-0.6)">
<path d="M378.00,386.60 C379.17,386.12 383.83,384.23 385.00,383.75 C385.83,382.71 388.33,380.00 390.00,377.50 C391.67,375.00 393.17,371.42 395.00,368.75 C396.83,366.08 397.77,363.39 401.00,361.50 C404.23,359.61 410.40,358.12 414.40,357.40 C418.40,356.68 421.53,356.73 425.00,357.20 C428.47,357.67 431.80,359.07 435.20,360.20 C438.60,361.33 443.70,363.37 445.40,364.00 C445.60,363.37 445.90,361.05 446.60,360.20 C447.30,359.35 448.53,358.77 449.60,358.90 C450.67,359.03 452.22,359.87 453.00,361.00 C453.78,362.13 454.08,364.92 454.30,365.70 C455.78,366.33 460.17,368.15 463.20,369.50 C466.23,370.85 470.23,372.67 472.50,373.80 C474.77,374.93 475.95,375.45 476.80,376.30 C477.65,377.15 477.73,378.12 477.60,378.90 C477.47,379.68 476.27,380.65 476.00,381.00 C475.13,381.63 472.37,383.88 470.80,384.80 C469.23,385.72 468.57,385.87 466.60,386.50 C464.63,387.13 461.93,387.43 459.00,388.60 C456.07,389.77 450.67,392.68 449.00,393.50 C449.83,393.92 453.33,395.17 454.00,396.00 C454.67,396.83 453.83,398.00 453.00,398.50 C452.17,399.00 450.42,399.42 449.00,399.00 C447.58,398.58 447.00,396.67 444.50,396.00 C442.00,395.33 435.75,395.17 434.00,395.00 C435.75,396.00 443.00,399.50 444.50,401.00 C446.00,402.50 444.25,403.67 443.00,404.00 C441.75,404.33 438.83,403.83 437.00,403.00 C435.17,402.17 434.00,400.17 432.00,399.00 C430.00,397.83 428.83,396.25 425.00,396.00 C421.17,395.75 411.67,397.25 409.00,397.50 C411.17,398.25 419.50,400.75 422.00,402.00 C424.50,403.25 424.33,404.17 424.00,405.00 C423.67,405.83 421.67,406.92 420.00,407.00 C418.33,407.08 416.00,406.25 414.00,405.50 C412.00,404.75 409.67,403.33 408.00,402.50 C406.33,401.67 405.67,401.25 404.00,400.50 C402.33,399.75 400.33,399.00 398.00,398.00 C395.67,397.00 391.96,395.52 390.00,394.50 C388.04,393.48 386.88,392.33 386.25,391.90 C384.88,392.13 379.38,393.07 378.00,393.30" fill="#fff" stroke="#1a1a1a" stroke-width="1.05" stroke-linejoin="round" stroke-linecap="round"/>
<path d="M446.60,371.20 C445.83,370.72 443.48,369.28 442.00,368.30 C440.52,367.32 439.12,365.80 437.70,365.30 C436.28,364.80 434.70,364.67 433.50,365.30 C432.30,365.93 430.65,367.83 430.50,369.10 C430.35,370.37 431.53,372.05 432.60,372.90 C433.67,373.75 435.62,373.77 436.90,374.20 C438.18,374.63 439.73,375.28 440.30,375.50" fill="none" stroke="#1a1a1a" stroke-width="1.05" stroke-linejoin="round" stroke-linecap="round"/>
<ellipse cx="456.8" cy="375.5" rx="2.3" ry="1.4" fill="#1a1a1a"/>
<path d="M473.6,378.3 L473.9,380.6 M464.8,386.9 L468,385.8" fill="none" stroke="#1a1a1a" stroke-width="1.05" stroke-linejoin="round" stroke-linecap="round" stroke-width="0.8"/>
</g>
<circle cx="730" cy="380.1" r="27.7" fill="#fff" stroke="#000" stroke-width="2"/>
<line x1="708" y1="371.5" x2="719.3" y2="376.2" stroke="#8b40b4" stroke-width="2.9"/>
<line x1="724" y1="364.9" x2="719.3" y2="376.2" stroke="#8b40b4" stroke-width="2.9"/>
<line x1="719.3" y1="376.2" x2="723.1" y2="386.6" stroke="#8b40b4" stroke-width="2.9"/>
<line x1="708.28" y1="371.62" x2="718.19" y2="375.74" stroke="#efe4f5" stroke-width="0.5"/>
<line x1="723.88" y1="365.18" x2="719.76" y2="375.09" stroke="#efe4f5" stroke-width="0.5"/>
<line x1="719.40" y1="376.48" x2="722.69" y2="385.47" stroke="#efe4f5" stroke-width="0.5"/>
<line x1="733" y1="367.3" x2="741" y2="375.3" stroke="#8b40b4" stroke-width="2.9"/>
<line x1="750.9" y1="368.7" x2="741" y2="375.3" stroke="#8b40b4" stroke-width="2.9"/>
<line x1="741" y1="375.3" x2="740.1" y2="387.5" stroke="#8b40b4" stroke-width="2.9"/>
<line x1="733.21" y1="367.51" x2="740.15" y2="374.45" stroke="#efe4f5" stroke-width="0.5"/>
<line x1="750.65" y1="368.87" x2="742.00" y2="374.63" stroke="#efe4f5" stroke-width="0.5"/>
<line x1="740.98" y1="375.60" x2="740.19" y2="386.30" stroke="#efe4f5" stroke-width="0.5"/>
<line x1="729.2" y1="380.9" x2="731.6" y2="391.8" stroke="#8b40b4" stroke-width="2.9"/>
<line x1="743.4" y1="390.4" x2="731.6" y2="391.8" stroke="#8b40b4" stroke-width="2.9"/>
<line x1="731.6" y1="391.8" x2="725.9" y2="401.2" stroke="#8b40b4" stroke-width="2.9"/>
<line x1="729.26" y1="381.19" x2="731.34" y2="390.63" stroke="#efe4f5" stroke-width="0.5"/>
<line x1="743.10" y1="390.44" x2="732.79" y2="391.66" stroke="#efe4f5" stroke-width="0.5"/>
<line x1="731.44" y1="392.06" x2="726.52" y2="400.17" stroke="#efe4f5" stroke-width="0.5"/>
</svg></body></html>
